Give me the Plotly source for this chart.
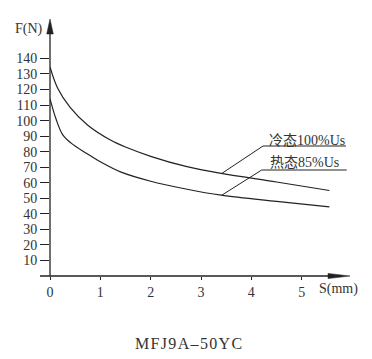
import numpy as np
import plotly.graph_objects as go

# ---- data ----
s_cold = [0, 0.15, 0.4, 0.75, 1.2, 1.5, 2.0, 2.7, 3.4, 4.5, 5.55]
f_cold = [134.5, 121, 108.5, 97, 87.5, 83, 77, 70.5, 66, 60.5, 55]

s_hot = [0, 0.12, 0.25, 0.42, 0.72, 1.0, 1.4, 2.0, 2.7, 3.4, 4.5, 5.55]
f_hot = [114, 101, 91, 85.5, 79, 73.5, 67, 61, 56, 52, 48, 44.5]

x_ticks = [0, 1, 2, 3, 4, 5]
y_ticks = [10, 20, 30, 40, 50, 60, 70, 80, 90, 100, 110, 120, 130, 140]

label_cold = "冷态100%Us"
label_hot = "热态85%Us"
title_text = "MFJ9A–50YC"

# ---- layout constants ----
W, H = 372, 359
ML, MR, MT, MB = 50, 22, 19, 83
PW, PH = W - ML - MR, H - MT - MB
XMAX = PW / 50.34
YMAX = PH / 1.554

LINE = "#222222"
TXT = "#333333"
SERIF = "Liberation Serif, Times New Roman, serif"
CJK = "Liberation Serif, Noto Sans CJK SC, serif"

def px2x(px):
    return (px - ML) / PW * XMAX

def py2y(py):
    return (MT + PH - py) / PH * YMAX

fig = go.Figure()
fig.add_trace(go.Scatter(x=s_cold, y=f_cold, mode="lines",
                         line=dict(color=LINE, width=1.2, shape="spline"),
                         hoverinfo="skip", showlegend=False))
fig.add_trace(go.Scatter(x=s_hot, y=f_hot, mode="lines",
                         line=dict(color=LINE, width=1.2, shape="spline"),
                         hoverinfo="skip", showlegend=False))

shapes = []
# axis lines
shapes.append(dict(type="line", xref="paper", yref="paper",
                   x0=-10 / PW, x1=0.96, y0=0, y1=0,
                   line=dict(color=LINE, width=1.3)))
shapes.append(dict(type="line", xref="paper", yref="paper",
                   x0=0, x1=0, y0=0, y1=0.96,
                   line=dict(color=LINE, width=1.3)))
# arrowheads
ah = 3.3
shapes.append(dict(type="path", xref="paper", yref="paper",
                   path=f"M 0 1 L {-ah/PW} {1-15/PH} L {ah/PW} {1-15/PH} Z",
                   fillcolor=LINE, line=dict(color=LINE, width=0.5)))
shapes.append(dict(type="path", xref="paper", yref="paper",
                   path=f"M 1 0 L {1-22/PW} {2.6/PH} L {1-22/PW} {-2.6/PH} Z",
                   fillcolor=LINE, line=dict(color=LINE, width=0.5)))

# leader lines and underlines
lead_s = 3.41
for s_arr, f_arr, ux0, uy, ux1 in [
    (s_cold, f_cold, 263, 146, 346),
    (s_hot, f_hot, 261.7, 170, 346.7),
]:
    fy = float(np.interp(lead_s, s_arr, f_arr))
    shapes.append(dict(type="line", x0=lead_s, y0=fy, x1=px2x(ux0), y1=py2y(uy),
                       line=dict(color=LINE, width=1)))
    shapes.append(dict(type="line", x0=px2x(ux0), y0=py2y(uy), x1=px2x(ux1), y1=py2y(uy),
                       line=dict(color=LINE, width=1)))

annotations = [
    dict(text=label_cold, x=px2x(267), y=py2y(140.5), xanchor="left", yanchor="middle",
         showarrow=False, font=dict(family=CJK, size=14, color=TXT)),
    dict(text=label_hot, x=px2x(268), y=py2y(162.5), xanchor="left", yanchor="middle",
         showarrow=False, font=dict(family=CJK, size=14, color=TXT)),
    dict(text="F(N)", xref="paper", yref="paper", x=(29 - ML) / PW, y=(MT + PH - 29) / PH,
         xanchor="center", yanchor="middle", showarrow=False,
         font=dict(family=SERIF, size=14, color=TXT)),
    dict(text="S(mm)", xref="paper", yref="paper", x=(338 - ML) / PW, y=(MT + PH - 288.5) / PH,
         xanchor="center", yanchor="middle", showarrow=False,
         font=dict(family=SERIF, size=14, color=TXT)),
    dict(text="\u200a".join(title_text), xref="paper", yref="paper",
         x=(188 - ML) / PW, y=(MT + PH - 343.5) / PH,
         xanchor="center", yanchor="middle", showarrow=False,
         font=dict(family=SERIF, size=16, color=TXT)),
]

fig.update_layout(
    width=W, height=H,
    margin=dict(l=ML, r=MR, t=MT, b=MB, pad=0),
    paper_bgcolor="white", plot_bgcolor="white",
    shapes=shapes, annotations=annotations,
    xaxis=dict(range=[0, XMAX], tickvals=x_ticks, ticktext=[str(v) for v in x_ticks],
               ticks="outside", ticklen=3, tickwidth=1, tickcolor=LINE,
               showgrid=False, zeroline=False, showline=False,
               tickfont=dict(family=SERIF, size=14, color=TXT), fixedrange=True),
    yaxis=dict(range=[0, YMAX], tickvals=y_ticks, ticktext=[str(v) for v in y_ticks],
               ticks="outside", ticklen=9, tickwidth=1, tickcolor=LINE,
               showgrid=False, zeroline=False, showline=False,
               tickfont=dict(family=SERIF, size=14, color=TXT), fixedrange=True),
)

fig.write_html("out.html", config={"displayModeBar": False},
               post_script="document.body.style.margin='0';document.body.style.overflow='hidden';")
